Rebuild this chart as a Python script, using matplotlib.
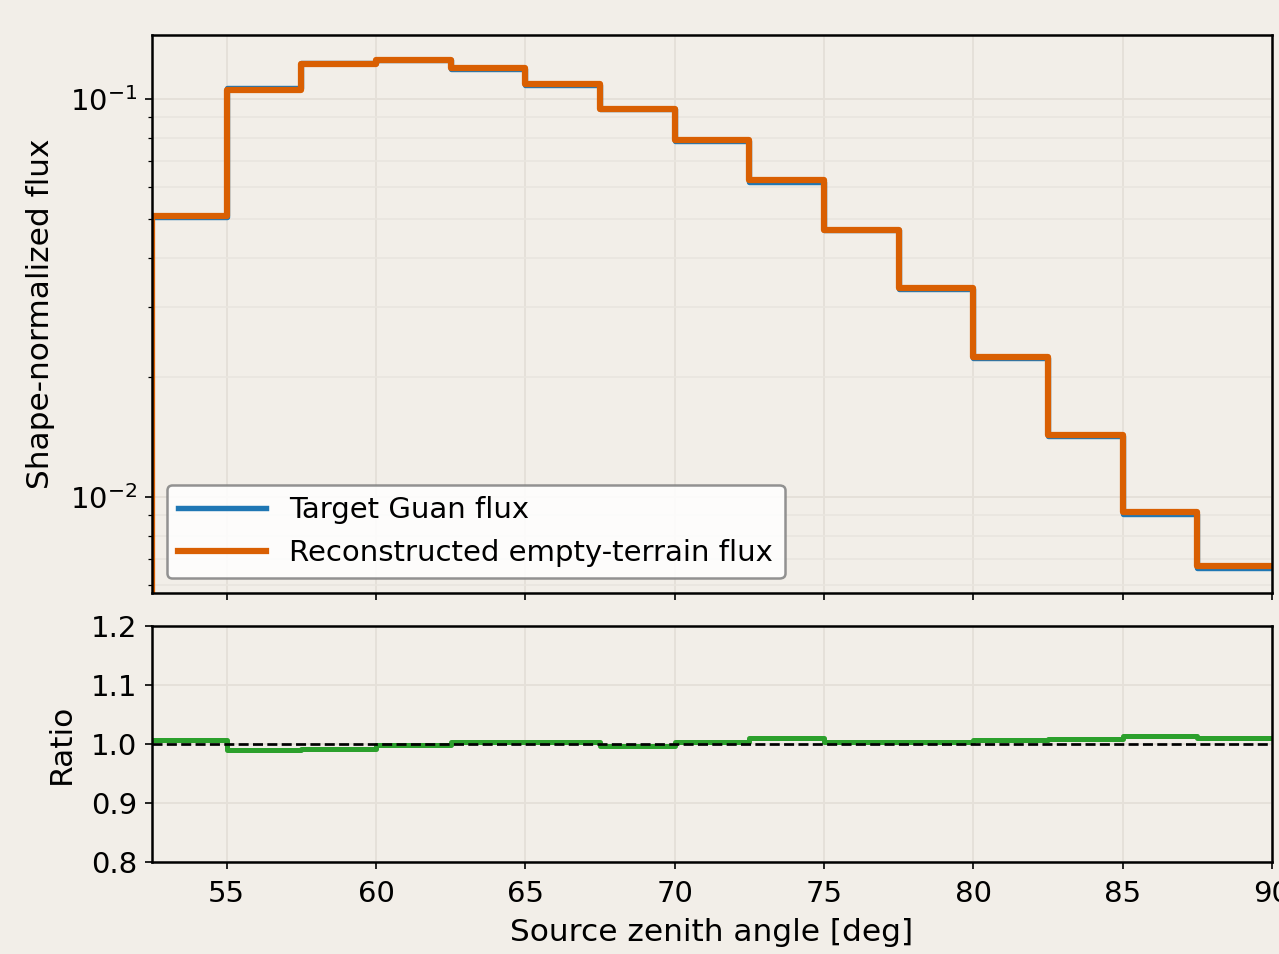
import numpy as np
import matplotlib
matplotlib.use("Agg")
import matplotlib.pyplot as plt

bin_edges = [52.5, 55, 57.5, 60, 62.5, 65, 67.5, 70, 72.5, 75, 77.5, 80, 82.5, 85, 87.5, 90]
target_flux = [0.0505, 0.1066, 0.1236, 0.1255, 0.1192, 0.1085, 0.0947, 0.0786, 0.0619, 0.0468, 0.0334, 0.0224, 0.0142, 0.00905, 0.00663]
ratio = [1.007, 0.989, 0.991, 0.999, 1.004, 1.004, 0.997, 1.004, 1.011, 1.003, 1.004, 1.006, 1.008, 1.013, 1.011]
recon_flux = [t * r for t, r in zip(target_flux, ratio)]

x_ticks = [55, 60, 65, 70, 75, 80, 85, 90]
ratio_ticks = [0.8, 0.9, 1.0, 1.1, 1.2]

BG = "#f2eee8"
plt.rcParams.update({
    "font.family": ["DejaVu Sans"],
    "axes.linewidth": 1.2,
    "xtick.labelsize": 14,
    "ytick.labelsize": 14,
    "xtick.major.pad": 5.0,
})

fig = plt.figure(figsize=(1279 / 150, 954 / 150), dpi=150, facecolor=BG)
ax1 = fig.add_axes([152 / 1279, 1 - 593 / 954, (1272 - 152) / 1279, (593 - 35) / 954], facecolor=BG)
ax2 = fig.add_axes([152 / 1279, 1 - 862 / 954, (1272 - 152) / 1279, (862 - 626) / 954], facecolor=BG, sharex=ax1)

def stairs_y(vals):
    return list(vals) + [vals[-1]]

ax1.step(bin_edges, stairs_y(target_flux), where="post", color="#1f77b4", lw=2.6, label="Target Guan flux")
ax1.step(bin_edges, stairs_y(recon_flux), where="post", color="#d95f02", lw=3.0, label="Reconstructed empty-terrain flux")
ax1.vlines(bin_edges[0], 0.005, target_flux[0], color="#d95f02", lw=3.0)
ax1.set_yscale("log")
ax1.set_ylim(0.00574, 0.145)
ax1.set_xlim(52.5, 90)
ax1.set_ylabel("Shape-normalized flux", fontsize=15, labelpad=7)
ax1.grid(True, which="major", color="#e5e0d9", lw=0.9)
ax1.grid(True, which="minor", axis="y", color="#e9e5df", lw=0.8)
ax1.tick_params(axis="x", labelbottom=False)
leg = ax1.legend(loc="lower left", fontsize=14, handlelength=3.0, frameon=True,
                 fancybox=True, framealpha=0.85, edgecolor="#808080")
leg.get_frame().set_linewidth(1.2)

ax2.step(bin_edges, stairs_y(ratio), where="post", color="#2ca02c", lw=2.4)
ax2.axhline(1.0, color="black", ls="--", lw=1.3)
ax2.set_ylim(0.8, 1.2)
ax2.set_yticks(ratio_ticks)
ax2.set_xticks(x_ticks)
ax2.set_xlim(52.5, 90)
ax2.set_ylabel("Ratio", fontsize=15, labelpad=7)
ax2.set_xlabel("Source zenith angle [deg]", fontsize=15, labelpad=5)
ax2.grid(True, color="#e5e0d9", lw=0.9)

fig.savefig("out.png", dpi=150, facecolor=BG)
